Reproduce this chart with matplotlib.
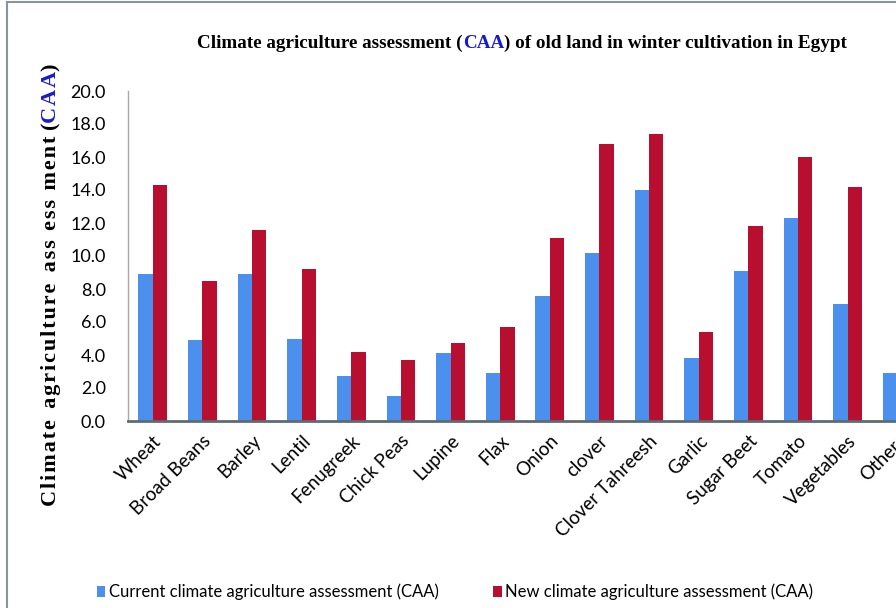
import matplotlib
matplotlib.use("Agg")
import matplotlib.pyplot as plt
from matplotlib.patches import Rectangle
import numpy as np

crops = ["Wheat", "Broad Beans", "Barley", "Lentil", "Fenugreek", "Chick Peas",
         "Lupine", "Flax", "Onion", "clover", "Clover Tahreesh", "Garlic",
         "Sugar Beet", "Tomato", "Vegetables", "Others"]
current_caa = [8.9, 4.9, 8.9, 5.0, 2.7, 1.5, 4.1, 2.9, 7.6, 10.2, 14.0, 3.8,
               9.1, 12.3, 7.1, 2.9]
new_caa = [14.3, 8.5, 11.6, 9.2, 4.2, 3.7, 4.7, 5.7, 11.1, 16.8, 17.4, 5.4,
           11.8, 16.0, 14.2, 4.6]
yticks = np.arange(0, 20.1, 2.0)

blue = "#4A90EC"
red = "#B80F31"
caa_blue = "#1A1ACC"
sans = ["Lato", "DejaVu Sans"]
serif = ["Liberation Serif", "DejaVu Serif"]

W, H = 896, 608
fig = plt.figure(figsize=(W / 100, H / 100), dpi=100)

# chart border (runs off the right/bottom edge)
fig.patches.append(Rectangle((7 / W, -0.1), 1.2, 1.1 - 2 / H, transform=fig.transFigure,
                             fill=False, edgecolor="#8A9499", lw=1.5, zorder=0))

ax = fig.add_axes([128 / W, 187 / H, 794 / W, 330 / H])
x = np.arange(len(crops))
bw = 0.29
ax.bar(x - bw / 2, current_caa, bw, color=blue, label="Current climate agriculture assessment (CAA)")
ax.bar(x + bw / 2, new_caa, bw, color=red, label="New climate agriculture assessment (CAA)")

ax.set_xlim(-0.5, len(crops) - 0.5)
ax.set_ylim(0, 20)
ax.set_yticks(yticks)
ax.set_yticklabels([f"{v:.1f}" for v in yticks], family=sans, fontsize=13)
ax.tick_params(axis="y", length=0, pad=16)
ax.set_xticks(x)
ax.set_xticklabels(crops, rotation=45, ha="right", rotation_mode="anchor",
                   family=sans, fontsize=13.5)
ax.tick_params(axis="x", length=0, pad=8)
for s in ["top", "right"]:
    ax.spines[s].set_visible(False)
ax.spines["left"].set_color("#A8A8A8")
ax.spines["left"].set_linewidth(1)
ax.spines["bottom"].set_color("#5F6B70")
ax.spines["bottom"].set_linewidth(2)

fig.canvas.draw()
r = fig.canvas.get_renderer()


def colored_line(parts, x0, y0, rotation=0, **kw):
    # draw text pieces one after another, centred on (x0, y0) in pixels
    texts = [fig.text(0, 0, s, color=c, rotation=rotation, transform=None,
                      ha="left", va="baseline", **kw) for s, c in parts]
    sizes = []
    for t in texts:
        bb = t.get_window_extent(r)
        sizes.append(bb.height if rotation else bb.width)
    total = sum(sizes)
    pos = -total / 2
    for t, sz in zip(texts, sizes):
        if rotation:
            t.set_position((x0, y0 + pos))
        else:
            t.set_position((x0 + pos, y0))
        pos += sz


def spaced(s):
    # loose letter spacing with hair spaces
    return "\u200a".join(s)


title_parts = [("Climate agriculture assessment (", "black"), ("CAA", caa_blue),
               (") of old land in winter cultivation in Egypt", "black")]
colored_line(title_parts, 522, H - 48, family=serif, fontweight="bold", fontsize=13.8)

ylab_parts = [(spaced("Climate") + "  " + spaced("agriculture") + "  " +
               spaced("ass ess ment") + " (", "black"),
              (spaced("CAA"), caa_blue), (")", "black")]
colored_line(ylab_parts, 41, H - 280, rotation=90, family=serif, fontweight="bold", fontsize=16)

leg = fig.legend(loc="center", bbox_to_anchor=(455 / W, 1 - 592 / H), ncol=2, frameon=False,
                 prop={"family": sans, "size": 12}, handlelength=0.5, handleheight=0.6,
                 handletextpad=0.2, columnspacing=3.3)

fig.savefig("out.png", dpi=100)
